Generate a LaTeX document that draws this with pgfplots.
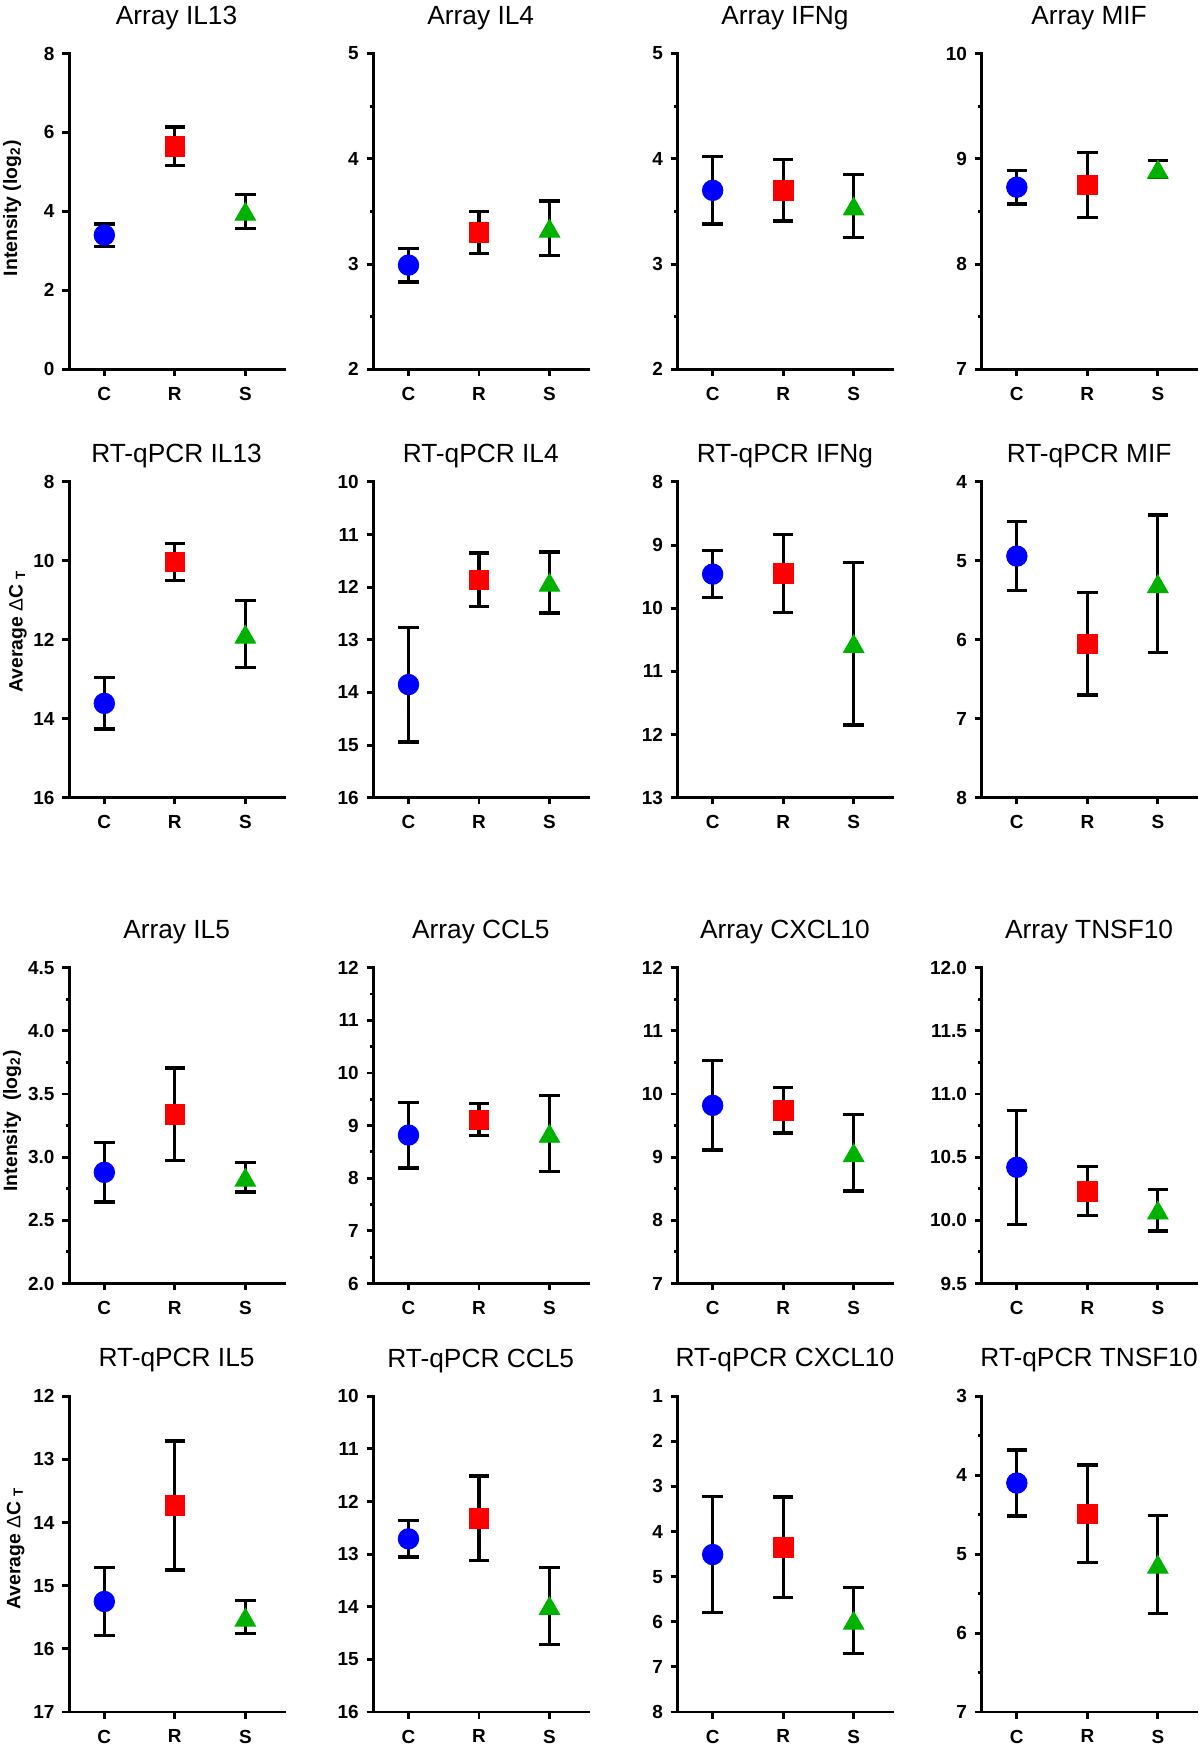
\documentclass[border=0pt]{standalone}
\usepackage{fontspec}
\setmainfont{Liberation Sans}
\usepackage{pgfplots}
\pgfplotsset{compat=1.18}
\definecolor{cblue}{RGB}{0,0,255}
\definecolor{cred}{RGB}{255,0,0}
\definecolor{cgreen}{RGB}{0,178,0}
\pgfplotsset{
  panel/.style={
    scale only axis, width=96.5pt, height=141.75pt, anchor=south west,
    xmin=-0.5, xmax=2.55, xtick={0,1,2}, xticklabels={C,R,S},
    axis y line=left, axis x line=bottom,
    axis line style={line width=1.3pt,-,line cap=rect},
    every tick/.style={black, line width=1.3pt},
    major tick length=3pt, minor tick length=1.6pt,
    tick align=outside,
    enlargelimits=false, clip=false,
    ticklabel style={font=\fontsize{8.5}{10}\selectfont\bfseries},
    xticklabel style={yshift=-1.5pt},
    /pgf/number format/assume math mode=true,
    title style={font=\fontsize{11.8}{14}\selectfont, at={(0.5,1)}, anchor=base, yshift=7.1pt},
  },
  rev/.style={y dir=reverse},
  dec/.style={yticklabel style={/pgf/number format/.cd, fixed, fixed zerofill, precision=1}},
  ebar/.style={only marks, mark=none, forget plot,
     error bars/.cd, y dir=both, y explicit,
     error bar style={draw=black, line width=1.45pt},
     error mark options={draw=black, rotate=90, mark size=4.6pt, line width=1.45pt}},
  mC/.style={only marks, mark=*, cblue, mark size=4.6pt},
  mR/.style={only marks, mark=square*, cred, mark size=4.4pt},
  mS/.style={only marks, mark=triangle*, cgreen, mark size=5.3pt, mark options={yshift=-1.3pt}},
}
\newcommand\ylab[1]{\fontsize{8.7}{10}\selectfont\bfseries #1}
\begin{document}
\begin{tikzpicture}
\useasboundingbox (0,0) rectangle (538.5pt,-784pt);
% ---------------- Row 1 ----------------
\begin{axis}[panel, at={(31pt,-165.75pt)}, title={Array IL13}, ymin=0, ymax=8, ytick={0,2,4,6,8}]
\addplot[ebar] coordinates {(0,3.40) +- (0,0.28) (1,5.65) +- (0,0.49) (2,4.00) +- (0,0.43)};
\addplot[mC] coordinates {(0,3.40)};
\addplot[mR] coordinates {(1,5.65)};
\addplot[mS] coordinates {(2,4.00)};
\end{axis}
\begin{axis}[panel, at={(167.5pt,-165.75pt)}, title={Array IL4}, ymin=2, ymax=5, ytick={2,3,4,5}, minor y tick num=1]
\addplot[ebar] coordinates {(0,2.99) +- (0,0.16) (1,3.30) +- (0,0.20) (2,3.34) +- (0,0.26)};
\addplot[mC] coordinates {(0,2.99)};
\addplot[mR] coordinates {(1,3.30)};
\addplot[mS] coordinates {(2,3.34)};
\end{axis}
\begin{axis}[panel, at={(304pt,-165.75pt)}, title={Array IFNg}, ymin=2, ymax=5, ytick={2,3,4,5}, minor y tick num=1]
\addplot[ebar] coordinates {(0,3.70) +- (0,0.32) (1,3.70) +- (0,0.29) (2,3.55) +- (0,0.30)};
\addplot[mC] coordinates {(0,3.70)};
\addplot[mR] coordinates {(1,3.70)};
\addplot[mS] coordinates {(2,3.55)};
\end{axis}
\begin{axis}[panel, at={(440.5pt,-165.75pt)}, title={Array MIF}, ymin=7, ymax=10, ytick={7,8,9,10}, minor y tick num=1]
\addplot[ebar] coordinates {(0,8.73) +- (0,0.16) (1,8.75) +- (0,0.31) (2,8.90) +- (0,0.08)};
\addplot[mC] coordinates {(0,8.73)};
\addplot[mR] coordinates {(1,8.75)};
\addplot[mS] coordinates {(2,8.90)};
\end{axis}
% ---------------- Row 2 ----------------
\begin{axis}[panel, rev, at={(31pt,-358pt)}, title={RT-qPCR IL13}, title style={yshift=-4.6pt}, ymin=8, ymax=16, ytick={8,10,12,14,16}]
\addplot[ebar] coordinates {(0,13.61) +- (0,0.65) (1,10.03) +- (0,0.46) (2,11.86) +- (0,0.85)};
\addplot[mC] coordinates {(0,13.61)};
\addplot[mR] coordinates {(1,10.03)};
\addplot[mS] coordinates {(2,11.86)};
\end{axis}
\begin{axis}[panel, rev, at={(167.5pt,-358pt)}, title={RT-qPCR IL4}, title style={yshift=-4.6pt}, ymin=10, ymax=16, ytick={10,11,...,16}]
\addplot[ebar] coordinates {(0,13.85) +- (0,1.09) (1,11.86) +- (0,0.51) (2,11.91) +- (0,0.58)};
\addplot[mC] coordinates {(0,13.85)};
\addplot[mR] coordinates {(1,11.86)};
\addplot[mS] coordinates {(2,11.91)};
\end{axis}
\begin{axis}[panel, rev, at={(304pt,-358pt)}, title={RT-qPCR IFNg}, title style={yshift=-4.6pt}, ymin=8, ymax=13, ytick={8,9,...,13}]
\addplot[ebar] coordinates {(0,9.46) +- (0,0.37) (1,9.45) +- (0,0.62) (2,10.56) +- (0,1.29)};
\addplot[mC] coordinates {(0,9.46)};
\addplot[mR] coordinates {(1,9.45)};
\addplot[mS] coordinates {(2,10.56)};
\end{axis}
\begin{axis}[panel, rev, at={(440.5pt,-358pt)}, title={RT-qPCR MIF}, title style={yshift=-4.6pt}, ymin=4, ymax=8, ytick={4,5,6,7,8}]
\addplot[ebar] coordinates {(0,4.94) +- (0,0.44) (1,6.05) +- (0,0.65) (2,5.29) +- (0,0.87)};
\addplot[mC] coordinates {(0,4.94)};
\addplot[mR] coordinates {(1,6.05)};
\addplot[mS] coordinates {(2,5.29)};
\end{axis}
% ---------------- Row 3 ----------------
\begin{axis}[panel, dec, at={(31pt,-576pt)}, title={Array IL5}, ymin=2, ymax=4.5, ytick={2,2.5,...,4.5}, minor y tick num=1]
\addplot[ebar] coordinates {(0,2.88) +- (0,0.235) (1,3.34) +- (0,0.366) (2,2.84) +- (0,0.115)};
\addplot[mC] coordinates {(0,2.88)};
\addplot[mR] coordinates {(1,3.34)};
\addplot[mS] coordinates {(2,2.84)};
\end{axis}
\begin{axis}[panel, at={(167.5pt,-576pt)}, title={Array CCL5}, ymin=6, ymax=12, ytick={6,7,...,12}, minor y tick num=1]
\addplot[ebar] coordinates {(0,8.82) +- (0,0.625) (1,9.11) +- (0,0.305) (2,8.85) +- (0,0.717)};
\addplot[mC] coordinates {(0,8.82)};
\addplot[mR] coordinates {(1,9.11)};
\addplot[mS] coordinates {(2,8.85)};
\end{axis}
\begin{axis}[panel, at={(304pt,-576pt)}, title={Array CXCL10}, ymin=7, ymax=12, ytick={7,8,...,12}, minor y tick num=1]
\addplot[ebar] coordinates {(0,9.82) +- (0,0.706) (1,9.74) +- (0,0.357) (2,9.07) +- (0,0.606)};
\addplot[mC] coordinates {(0,9.82)};
\addplot[mR] coordinates {(1,9.74)};
\addplot[mS] coordinates {(2,9.07)};
\end{axis}
\begin{axis}[panel, dec, at={(440.5pt,-576pt)}, title={Array TNSF10}, ymin=9.5, ymax=12, ytick={9.5,10,...,12}, minor y tick num=1]
\addplot[ebar] coordinates {(0,10.42) +- (0,0.45) (1,10.23) +- (0,0.194) (2,10.08) +- (0,0.165)};
\addplot[mC] coordinates {(0,10.42)};
\addplot[mR] coordinates {(1,10.23)};
\addplot[mS] coordinates {(2,10.08)};
\end{axis}
% ---------------- Row 4 ----------------
\begin{axis}[panel, rev, at={(31pt,-768.3pt)}, title={RT-qPCR IL5}, ymin=12, ymax=17, ytick={12,13,...,17}]
\addplot[ebar] coordinates {(0,15.25) +- (0,0.54) (1,13.73) +- (0,1.02) (2,15.50) +- (0,0.26)};
\addplot[mC] coordinates {(0,15.25)};
\addplot[mR] coordinates {(1,13.73)};
\addplot[mS] coordinates {(2,15.50)};
\end{axis}
\begin{axis}[panel, rev, at={(167.5pt,-768.3pt)}, title={RT-qPCR CCL5}, ymin=10, ymax=16, ytick={10,11,...,16}]
\addplot[ebar] coordinates {(0,12.71) +- (0,0.343) (1,12.32) +- (0,0.806) (2,13.98) +- (0,0.73)};
\addplot[mC] coordinates {(0,12.71)};
\addplot[mR] coordinates {(1,12.32)};
\addplot[mS] coordinates {(2,13.98)};
\end{axis}
\begin{axis}[panel, rev, at={(304pt,-768.3pt)}, title={RT-qPCR CXCL10}, ymin=1, ymax=8, ytick={1,2,...,8}]
\addplot[ebar] coordinates {(0,4.51) +- (0,1.28) (1,4.35) +- (0,1.118) (2,5.97) +- (0,0.733)};
\addplot[mC] coordinates {(0,4.51)};
\addplot[mR] coordinates {(1,4.35)};
\addplot[mS] coordinates {(2,5.97)};
\end{axis}
\begin{axis}[panel, rev, at={(440.5pt,-768.3pt)}, title={RT-qPCR TNSF10}, ymin=3, ymax=7, ytick={3,4,5,6,7}, minor y tick num=1]
\addplot[ebar] coordinates {(0,4.10) +- (0,0.417) (1,4.49) +- (0,0.618) (2,5.13) +- (0,0.618)};
\addplot[mC] coordinates {(0,4.10)};
\addplot[mR] coordinates {(1,4.49)};
\addplot[mS] coordinates {(2,5.13)};
\end{axis}
% ---------------- y labels ----------------
\node[rotate=90, anchor=center] at (5.5pt,-93.5pt) {\ylab{Intensity (log\textsubscript{2})}};
\node[rotate=90, anchor=center] at (8pt,-283.5pt) {\ylab{Average {\mdseries Δ}C\ \raisebox{-1.2pt}{\fontsize{6}{6}\selectfont T}}};
\node[rotate=90, anchor=center] at (5.5pt,-503pt) {\ylab{Intensity\ \ (log\textsubscript{2})}};
\node[rotate=90, anchor=center] at (7pt,-695pt) {\ylab{Average {\mdseries Δ}C\ \raisebox{-1.2pt}{\fontsize{6}{6}\selectfont T}}};
\end{tikzpicture}
\end{document}
